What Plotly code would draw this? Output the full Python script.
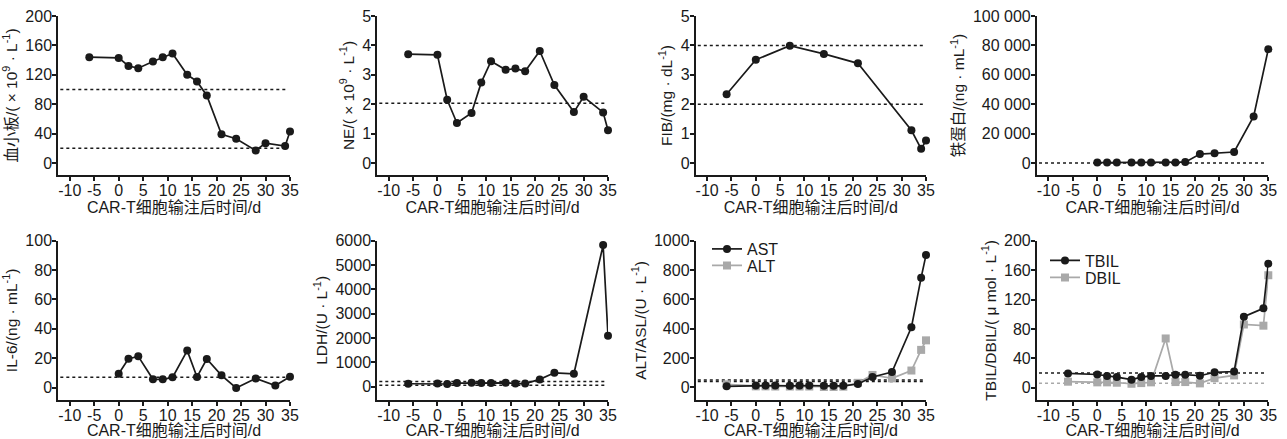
import plotly.graph_objects as go

# ---------------- data ----------------
days_plt = [-6, 0, 2, 4, 7, 9, 11, 14, 16, 18, 21, 24, 28, 30, 34, 35]
plt_vals = [144, 143, 132, 129, 138, 144, 149, 120, 111, 92, 39, 33, 17, 27, 23, 43]
plt_ref = [100, 20]

days_ne = [-6, 0, 2, 4, 7, 9, 11, 14, 16, 18, 21, 24, 28, 30, 34, 35]
ne_vals = [3.70, 3.68, 2.15, 1.36, 1.70, 2.74, 3.46, 3.17, 3.21, 3.12, 3.81, 2.65, 1.73, 2.25, 1.72, 1.11]
ne_ref = [2.03]

days_fib = [-6, 0, 7, 14, 21, 32, 34, 35]
fib_vals = [2.34, 3.51, 3.99, 3.71, 3.39, 1.11, 0.48, 0.76]
fib_ref = [4, 2]

days_fer = [0, 2, 4, 7, 9, 11, 14, 16, 18, 21, 24, 28, 32, 35]
fer_vals = [300, 300, 300, 300, 300, 300, 300, 300, 600, 6100, 6600, 7500, 31700, 77400]
fer_ref = [0]

days_il6 = [0, 2, 4, 7, 9, 11, 14, 16, 18, 21, 24, 28, 32, 35]
il6_vals = [9.5, 19.7, 21.3, 5.7, 5.7, 7.0, 25.2, 7.3, 19.5, 8.4, -0.2, 6.3, 1.4, 7.5]
il6_ref = [7]

days_ldh = [-6, 0, 2, 4, 7, 9, 11, 14, 16, 18, 21, 24, 28, 34, 35]
ldh_vals = [120, 130, 110, 150, 160, 150, 150, 160, 130, 130, 300, 570, 530, 5820, 2090]
ldh_ref = [215, 60]

days_liver = [-6, 0, 2, 4, 7, 9, 11, 14, 16, 18, 21, 24, 28, 32, 34, 35]
ast_vals = [6, 12, 12, 12, 10, 12, 12, 10, 10, 10, 22, 70, 104, 409, 748, 902]
alt_vals = [20, 6, 6, 5, 5, 5, 5, 2, 2, 4, 30, 84, 61, 114, 255, 320]
liver_ref = [40, 50]

days_bil = [-6, 0, 2, 4, 7, 9, 11, 14, 16, 18, 21, 24, 28, 30, 34, 35]
tbil_vals = [19.5, 18, 16, 14.5, 11, 14.5, 16, 16, 17.7, 17.7, 16.3, 21, 22, 96.6, 108, 168.7]
dbil_vals = [8.2, 7.3, 7.3, 6.8, 5.4, 6.3, 7.3, 67, 7.7, 7.7, 5.9, 13, 16.8, 86, 84.4, 153]
tbil_ref = [20]
dbil_ref = [6]

x_ticks = [-10, -5, 0, 5, 10, 15, 20, 25, 30, 35]
x_ticklabels = ["-10", "-5", "0", "5", "10", "15", "20", "25", "30", "35"]
x_title = "CAR-T细胞输注后时间/d"

# ---------------- style ----------------
FONT = "Liberation Sans, Arial, Noto Sans CJK SC, sans-serif"
BLACK = "#1a1a1a"
GRAY = "#a9a9a9"
W, H = 1287, 439
TICK_SIZE = 16
TITLE_SIZE = 16

col_px = [(58, 290), (377, 608), (695.5, 926), (1036.7, 1268.3)]
row_px = [(16, 175), (240.7, 400)]

fig = go.Figure()

panels = [
    dict(r=0, c=0, series=[(days_plt, plt_vals, BLACK, "circle", None)],
         refs=[(v, BLACK) for v in plt_ref],
         title="血小板/( × 10<sup>9</sup> · L<sup>-1</sup>)", yr=[-16.3, 200], dt=40),
    dict(r=0, c=1, series=[(days_ne, ne_vals, BLACK, "circle", None)],
         refs=[(v, BLACK) for v in ne_ref],
         title="NE/( × 10<sup>9</sup> · L<sup>-1</sup>)", yr=[-0.41, 5], dt=1),
    dict(r=0, c=2, series=[(days_fib, fib_vals, BLACK, "circle", None)],
         refs=[(v, BLACK) for v in fib_ref],
         title="FIB/(mg · dL<sup>-1</sup>)", yr=[-0.41, 5], dt=1),
    dict(r=0, c=3, series=[(days_fer, fer_vals, BLACK, "circle", None)],
         refs=[(v, BLACK) for v in fer_ref],
         title="铁蛋白/(ng · mL<sup>-1</sup>)", yr=[-8160, 100000], dt=20000),
    dict(r=1, c=0, series=[(days_il6, il6_vals, BLACK, "circle", None)],
         refs=[(v, BLACK) for v in il6_ref],
         title="IL-6/(ng · mL<sup>-1</sup>)", yr=[-8.4, 100], dt=20),
    dict(r=1, c=1, series=[(days_ldh, ldh_vals, BLACK, "circle", None)],
         refs=[(v, BLACK) for v in ldh_ref],
         title="LDH/(U · L<sup>-1</sup>)", yr=[-547, 6000], dt=1000),
    dict(r=1, c=2, series=[(days_liver, alt_vals, GRAY, "square", ("ALT", "legend2")),
                           (days_liver, ast_vals, BLACK, "circle", ("AST", "legend"))],
         refs=[(v, BLACK) for v in liver_ref],
         title="ALT/ASL/(U · L<sup>-1</sup>)", yr=[-87, 1000], dt=200),
    dict(r=1, c=3, series=[(days_bil, dbil_vals, GRAY, "square", ("DBIL", "legend4")),
                           (days_bil, tbil_vals, BLACK, "circle", ("TBIL", "legend3"))],
         refs=[(v, BLACK) for v in tbil_ref] + [(v, GRAY) for v in dbil_ref],
         title="TBIL/DBIL/( μ mol · L<sup>-1</sup>)", yr=[-16.7, 200], dt=40),
]

layout_axes = {}
for i, p in enumerate(panels, start=1):
    xa = "x" if i == 1 else f"x{i}"
    ya = "y" if i == 1 else f"y{i}"
    x0, x1 = col_px[p["c"]]
    y0, y1 = row_px[p["r"]]
    layout_axes["xaxis" if i == 1 else f"xaxis{i}"] = dict(
        domain=[x0 / W, x1 / W], anchor=ya, range=[-12.4, 35],
        tickvals=x_ticks, ticktext=x_ticklabels,
        showline=True, linecolor=BLACK, linewidth=1.5,
        ticks="outside", ticklen=4, tickwidth=1.5, tickcolor=BLACK,
        ticklabelstandoff=-4,
        showgrid=False, zeroline=False, automargin=False,
        tickfont=dict(size=TICK_SIZE, color=BLACK, family=FONT),
        title=dict(text=x_title, font=dict(size=TITLE_SIZE, color=BLACK, family=FONT), standoff=0),
    )
    layout_axes["yaxis" if i == 1 else f"yaxis{i}"] = dict(
        domain=[1 - y1 / H, 1 - y0 / H], anchor=xa, range=p["yr"], dtick=p["dt"], tick0=0,
        showline=True, linecolor=BLACK, linewidth=1.5,
        ticks="outside", ticklen=4, tickwidth=1.5, tickcolor=BLACK,
        ticklabelstandoff=-3,
        showgrid=False, zeroline=False, automargin=False,
        exponentformat="none", separatethousands=False,
        tickfont=dict(size=TICK_SIZE, color=BLACK, family=FONT),
        title=dict(text=p["title"], font=dict(size=TITLE_SIZE - 0.5, color=BLACK, family=FONT), standoff=4),
    )
    for val, colr in p["refs"]:
        fig.add_shape(type="line", xref=f"{xa} domain", yref=ya, x0=0.01, x1=0.99,
                      y0=val, y1=val, line=dict(color=colr, width=1.5, dash="dot"), layer="below")
    for xs, ys, colr, sym, leg in p["series"]:
        fig.add_trace(go.Scatter(
            x=xs, y=ys, xaxis=xa, yaxis=ya, mode="lines+markers",
            line=dict(color=colr, width=1.7),
            marker=dict(color=colr, symbol=sym, size=8),
            cliponaxis=False,
            name=leg[0] if leg else "",
            showlegend=bool(leg),
            legend=leg[1] if leg else "legend",
        ))

leg_common = dict(
    xanchor="left", yanchor="middle", bgcolor="rgba(0,0,0,0)",
    font=dict(size=TITLE_SIZE, color=BLACK, family=FONT), itemwidth=30,
)

fig.update_layout(
    width=W, height=H,
    margin=dict(l=0, r=0, t=0, b=0, autoexpand=False),
    paper_bgcolor="white", plot_bgcolor="white",
    separators=". ",
    font=dict(family=FONT, color=BLACK),
    legend=dict(x=707 / W, y=1 - 249 / H, **leg_common),
    legend2=dict(x=707 / W, y=1 - 265.5 / H, **leg_common),
    legend3=dict(x=1045 / W, y=1 - 260.5 / H, **leg_common),
    legend4=dict(x=1045 / W, y=1 - 277.5 / H, **leg_common),
    **layout_axes,
)
# ferritin axis uses grouped thousands ("100 000")
fig.update_layout(yaxis4=dict(tickformat=",d"))

fig.write_html(
    "out.html",
    config={"displayModeBar": False},
    post_script="document.body.style.margin='0';document.body.style.overflow='hidden';",
)
